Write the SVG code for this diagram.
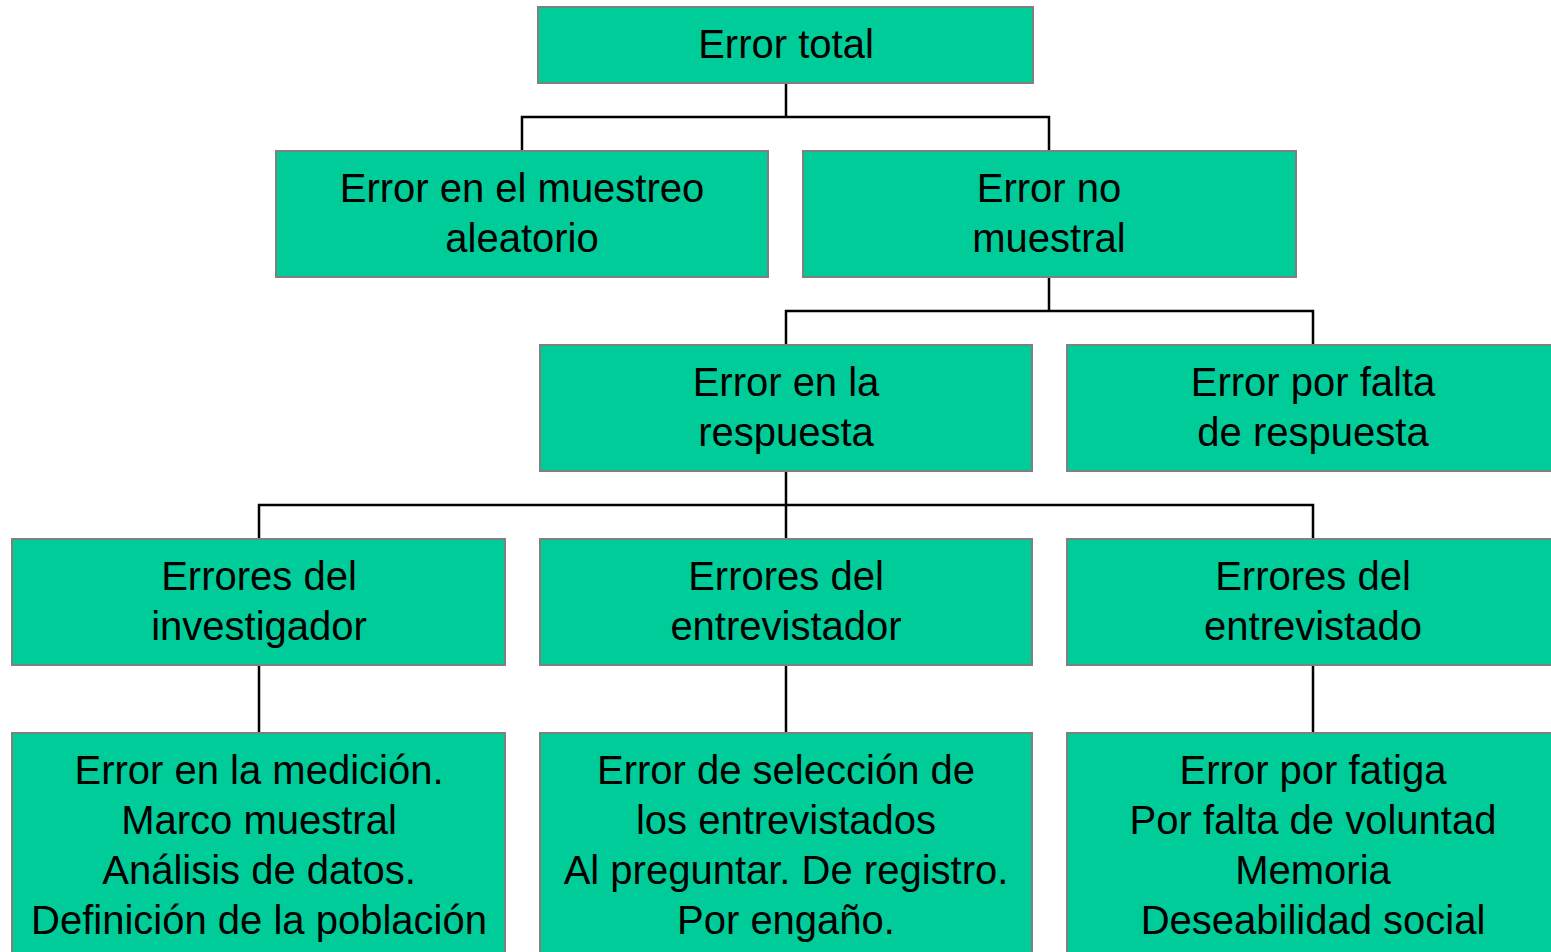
<svg xmlns="http://www.w3.org/2000/svg" width="1551" height="952" viewBox="0 0 1551 952">
<style>
.box{fill:#00CC99;stroke:#808080;stroke-width:2}
.t{font-family:"Liberation Sans",Arial,sans-serif;font-size:40px;fill:#000;text-anchor:middle}
.c{fill:none;stroke:#000;stroke-width:2.5}
</style>
<rect width="1551" height="952" fill="#fff"/>
<g id="connectors">
<path class="c" d="M786 83V117M522 151V117H1049V151"/>
<path class="c" d="M1049 277V311M786 345V311H1313V345"/>
<path class="c" d="M786 471V539M259 539V505H1313V539"/>
<path class="c" d="M259 665V733M786 665V733M1313 665V733"/>
</g>
<g id="n_total"><rect class="box" x="538" y="7" width="495" height="76"/><text class="t" x="786" y="58">Error total</text></g>
<g id="n_muestreo"><rect class="box" x="276" y="151" width="492" height="126"/><text class="t" x="522" y="202">Error en el muestreo</text><text class="t" x="522" y="252">aleatorio</text></g>
<g id="n_nomuestral"><rect class="box" x="803" y="151" width="493" height="126"/><text class="t" x="1049" y="202">Error no</text><text class="t" x="1049" y="252">muestral</text></g>
<g id="n_respuesta"><rect class="box" x="540" y="345" width="492" height="126"/><text class="t" x="786" y="396">Error en la</text><text class="t" x="786" y="446">respuesta</text></g>
<g id="n_falta"><rect class="box" x="1067" y="345" width="495" height="126"/><text class="t" x="1313" y="396">Error por falta</text><text class="t" x="1313" y="446">de respuesta</text></g>
<g id="n_investigador"><rect class="box" x="12" y="539" width="493" height="126"/><text class="t" x="259" y="590">Errores del</text><text class="t" x="259" y="640">investigador</text></g>
<g id="n_entrevistador"><rect class="box" x="540" y="539" width="492" height="126"/><text class="t" x="786" y="590">Errores del</text><text class="t" x="786" y="640">entrevistador</text></g>
<g id="n_entrevistado"><rect class="box" x="1067" y="539" width="495" height="126"/><text class="t" x="1313" y="590">Errores del</text><text class="t" x="1313" y="640">entrevistado</text></g>
<g id="n_inv_det"><rect class="box" x="12" y="733" width="493" height="230"/><text class="t" x="259" y="784">Error en la medición.</text><text class="t" x="259" y="834">Marco muestral</text><text class="t" x="259" y="884">Análisis de datos.</text><text class="t" x="259" y="934">Definición de la población</text></g>
<g id="n_entr_det"><rect class="box" x="540" y="733" width="492" height="230"/><text class="t" x="786" y="784">Error de selección de</text><text class="t" x="786" y="834">los entrevistados</text><text class="t" x="786" y="884">Al preguntar. De registro.</text><text class="t" x="786" y="934">Por engaño.</text></g>
<g id="n_entdo_det"><rect class="box" x="1067" y="733" width="495" height="230"/><text class="t" x="1313" y="784">Error por fatiga</text><text class="t" x="1313" y="834">Por falta de voluntad</text><text class="t" x="1313" y="884">Memoria</text><text class="t" x="1313" y="934">Deseabilidad social</text></g>
</svg>
